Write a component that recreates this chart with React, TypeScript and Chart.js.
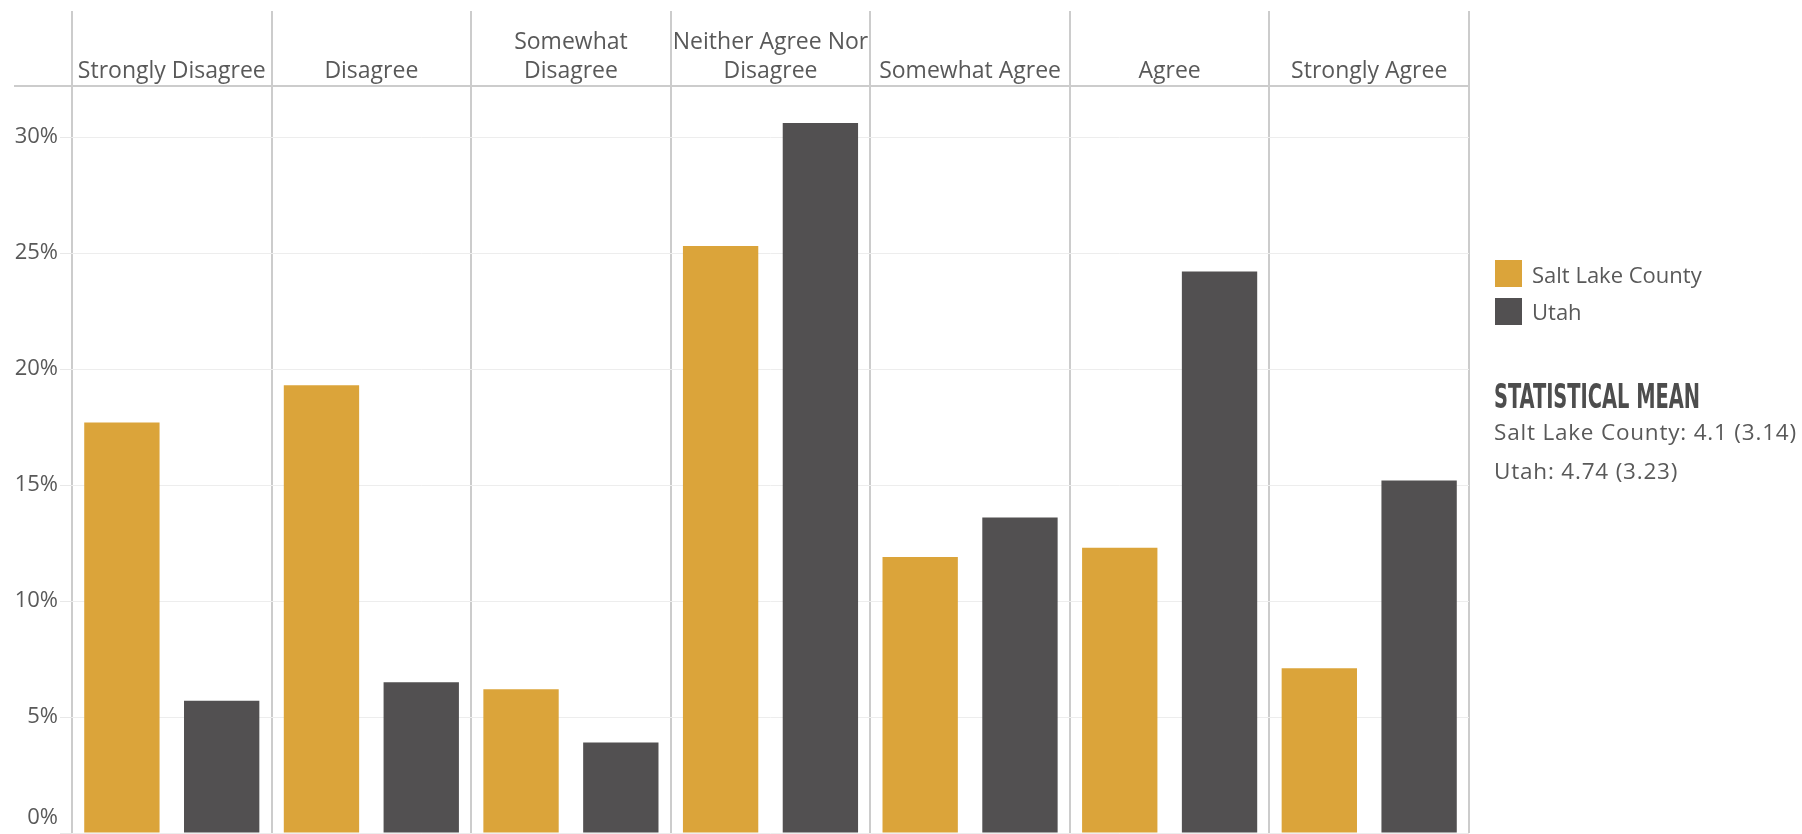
import React, { useEffect, useLayoutEffect, useRef } from "react";
import { Chart, registerables } from "chart.js";

Chart.register(...registerables);

// ---- data ----
const categories: string[][] = [
  ["Strongly Disagree"],
  ["Disagree"],
  ["Somewhat", "Disagree"],
  ["Neither Agree Nor", "Disagree"],
  ["Somewhat Agree"],
  ["Agree"],
  ["Strongly Agree"],
];
const saltLakeCounty = [17.7, 19.3, 6.2, 25.3, 11.9, 12.3, 7.1];
const utah = [5.7, 6.5, 3.9, 30.6, 13.6, 24.2, 15.2];
const yTickValues = [0, 5, 10, 15, 20, 25, 30];
const seriesNames = ["Salt Lake County", "Utah"];
const seriesColors = ["#DBA43A", "#525051"];
const meanTitle = "STATISTICAL MEAN";
const meanLines = ["Salt Lake County: 4.1 (3.14)", "Utah: 4.74 (3.23)"];

const W = 1802;
const H = 834;
const TEXT = "#595959";
const FONT = "'Open Sans', 'Noto Sans', sans-serif";

const headerPlugin = {
  id: "headerPlugin",
  beforeDraw(chart: any) {
    const ys = chart.scales.y;
    const items = ys.getLabelItems();
    items.forEach((it: any, i: number) => {
      const t = ys.ticks[i];
      if (t && t.value === 0 && !it._shifted) {
        it._shifted = true;
        it.options.translation[1] -= 15;
      }
    });
  },
  afterDraw(chart: any) {
    const { ctx, chartArea } = chart;
    const x = chart.scales.x;
    const n = categories.length;
    ctx.save();
    ctx.strokeStyle = "#cccccc";
    ctx.lineWidth = 2;
    ctx.beginPath();
    ctx.moveTo(14, chartArea.top);
    ctx.lineTo(chartArea.left, chartArea.top);
    for (let i = 0; i <= n; i++) {
      const px = Math.round(x.getPixelForValue(i - 0.5));
      ctx.moveTo(px, 11);
      ctx.lineTo(px, chartArea.top);
    }
    ctx.stroke();
    ctx.restore();
  },
};

function ChartCanvas() {
  const ref = useRef<HTMLCanvasElement | null>(null);
  useEffect(() => {
    if (!ref.current) return;
    const chart = new Chart(ref.current, {
      type: "bar",
      data: {
        labels: categories as any,
        datasets: [
          {
            label: seriesNames[0],
            data: saltLakeCounty,
            backgroundColor: seriesColors[0],
            categoryPercentage: 1.0,
            barPercentage: 0.755,
          },
          {
            label: seriesNames[1],
            data: utah,
            backgroundColor: seriesColors[1],
            categoryPercentage: 1.0,
            barPercentage: 0.755,
          },
        ],
      },
      options: {
        animation: false,
        responsive: false,
        devicePixelRatio: 1,
        layout: { padding: { left: 0, top: 0, right: 333, bottom: 1 } },
        plugins: {
          legend: { display: false },
          tooltip: { enabled: false },
          title: { display: false },
        },
        scales: {
          x: {
            type: "category",
            position: "top",
            offset: true,
            grid: {
              display: true,
              offset: true,
              drawTicks: false,
              color: "#cccccc",
              lineWidth: 2,
            },
            border: { display: true, color: "#cccccc", width: 2 },
            ticks: {
              color: TEXT,
              font: { family: FONT, size: 23, lineHeight: 29 / 23 },
              padding: 0,
              maxRotation: 0,
              minRotation: 0,
              autoSkip: false,
            },
            afterFit(s: any) {
              s.height = 86;
              s.paddingLeft = 0;
              s.paddingRight = 0;
            },
          },
          y: {
            type: "linear",
            min: 0,
            max: 32.2,
            afterBuildTicks(s: any) {
              s.ticks = yTickValues.map((v) => ({ value: v }));
            },
            grid: {
              color: "#ededed",
              lineWidth: 1,
              drawTicks: true,
              tickLength: 12,
              tickColor: "#e8e8e8",
            },
            border: { display: false },
            ticks: {
              color: TEXT,
              font: { family: FONT, size: 22 },
              padding: 2,
              callback: (v: any) => `${v}%`,
            },
            afterFit(s: any) {
              s.width = 72;
              s.paddingTop = 0;
              s.paddingBottom = 0;
            },
          },
        },
      },
      plugins: [headerPlugin],
    });
    return () => chart.destroy();
  }, []);
  return (
    <canvas
      ref={ref}
      width={W}
      height={H}
      style={{ position: "absolute", left: 0, top: 0, width: W, height: H }}
    />
  );
}

function MeanTitle() {
  const ref = useRef<HTMLSpanElement | null>(null);
  useLayoutEffect(() => {
    const el = ref.current;
    if (!el) return;
    el.style.transform = "none";
    const w = el.getBoundingClientRect().width;
    if (w > 0) el.style.transform = `scaleX(${206 / w})`;
  }, []);
  return (
    <span
      ref={ref}
      style={{
        display: "inline-block",
        whiteSpace: "nowrap",
        transformOrigin: "0 0",
        fontFamily: "'DejaVu Sans Condensed', 'Liberation Sans Narrow', 'DejaVu Sans', sans-serif",
        fontStretch: "condensed",
        fontWeight: 700,
        fontSize: 34,
        lineHeight: "40px",
        color: "#4d4d4d",
      }}
    >
      {meanTitle}
    </span>
  );
}

export default function App() {
  useEffect(() => {
    document.body.style.margin = "0";
    document.body.style.background = "#ffffff";
  }, []);
  const legendTops = [260, 298];
  const legendCenters = [274, 311];
  const meanCenters = [432, 471];
  return (
    <div style={{ position: "relative", width: W, height: H, overflow: "hidden", background: "#fff" }}>
      <ChartCanvas />
      {seriesNames.map((name, i) => (
        <React.Fragment key={name}>
          <div
            style={{
              position: "absolute",
              left: 1495,
              top: legendTops[i],
              width: 27,
              height: 27,
              background: seriesColors[i],
            }}
          />
          <div
            style={{
              position: "absolute",
              left: 1532,
              top: legendCenters[i] - 16,
              height: 32,
              lineHeight: "32px",
              fontFamily: FONT,
              fontSize: 22,
              color: TEXT,
              whiteSpace: "nowrap",
            }}
          >
            {name}
          </div>
        </React.Fragment>
      ))}
      <div style={{ position: "absolute", left: 1494, top: 376 }}>
        <MeanTitle />
      </div>
      {meanLines.map((line, i) => (
        <div
          key={line}
          style={{
            position: "absolute",
            left: 1494,
            top: meanCenters[i] - 16,
            height: 32,
            lineHeight: "32px",
            fontFamily: FONT,
            fontSize: 22.5,
            letterSpacing: "0.8px",
            color: TEXT,
            whiteSpace: "nowrap",
          }}
        >
          {line}
        </div>
      ))}
    </div>
  );
}
